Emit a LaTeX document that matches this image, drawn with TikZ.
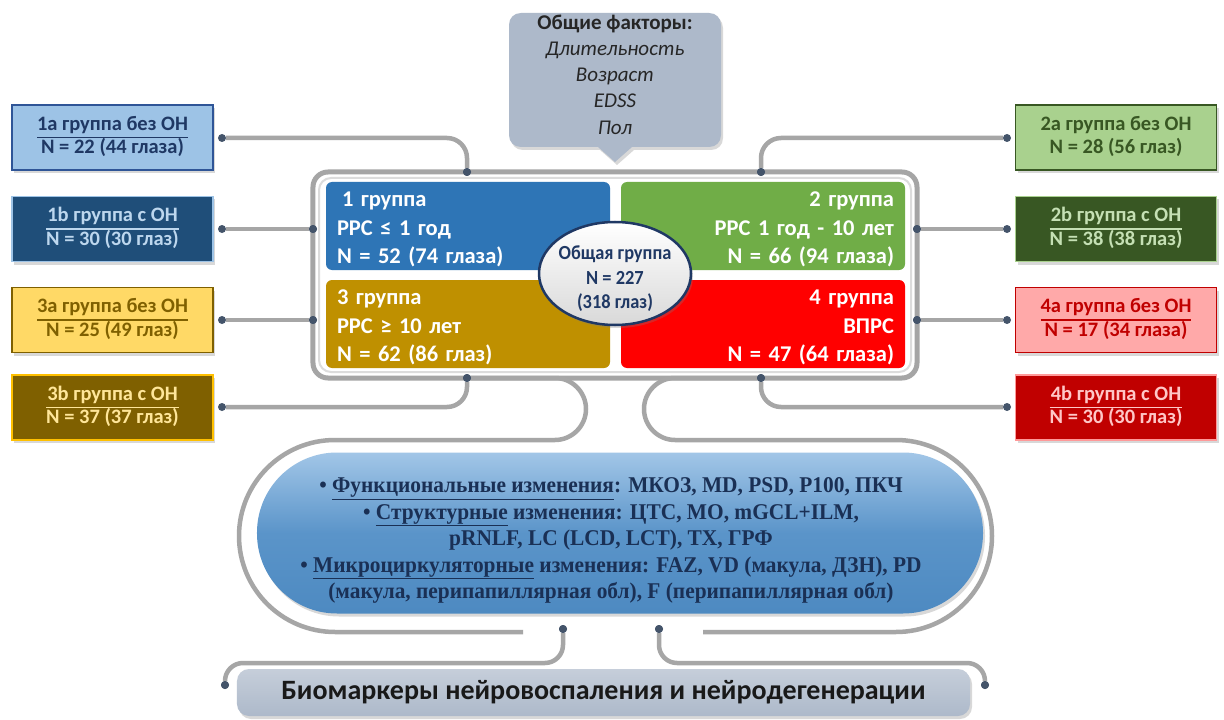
\documentclass[tikz,border=0pt]{standalone}
\usepackage{fontspec}
\setmainfont{Carlito}
\newfontfamily\tnr[FakeStretch=0.95]{Liberation Serif}
\newfontfamily\cond[FakeStretch=0.92]{Carlito}
\usetikzlibrary{shadows,shapes.geometric}
\definecolor{frameC}{HTML}{A5A5A5}
\definecolor{frameL}{HTML}{DCDCDC}
\definecolor{dotC}{HTML}{44546A}
\definecolor{lineC}{HTML}{A6A6A6}
\definecolor{q1}{HTML}{2E75B6}
\definecolor{q2}{HTML}{70AD47}
\definecolor{q3}{HTML}{BF9000}
\definecolor{q4}{HTML}{FF0000}
\definecolor{navy}{HTML}{1F3864}
\definecolor{callC}{HTML}{ADB9CA}
\definecolor{fa}{HTML}{9DC3E6}\definecolor{ba}{HTML}{2F5597}\definecolor{ta}{HTML}{1F3864}
\definecolor{fb}{HTML}{1F4E79}\definecolor{bb}{HTML}{9DC3E6}\definecolor{tb}{HTML}{BDD7EE}
\definecolor{fc}{HTML}{FFD966}\definecolor{bc}{HTML}{7F6000}\definecolor{tc}{HTML}{7F6000}
\definecolor{fd}{HTML}{7F6000}\definecolor{bd}{HTML}{FFC000}\definecolor{td}{HTML}{FFE699}
\definecolor{fe}{HTML}{A9D18E}\definecolor{be}{HTML}{385723}\definecolor{te}{HTML}{385723}
\definecolor{ff}{HTML}{385723}\definecolor{bf}{HTML}{A9D18E}\definecolor{tf}{HTML}{C5E0B4}
\definecolor{fg}{HTML}{FFA9A9}\definecolor{bg}{HTML}{C00000}\definecolor{tg}{HTML}{C00000}
\definecolor{fh}{HTML}{C00000}\definecolor{bh}{HTML}{FF9999}\definecolor{th}{HTML}{FFC7C7}
\newcommand{\grp}[2]{{\setlength{\tabcolsep}{0pt}\setlength{\arrayrulewidth}{1.3bp}\begin{tabular}{c}#1\\\hline #2\end{tabular}}}
\newcommand{\grpn}[2]{{\setlength{\tabcolsep}{0pt}\begin{tabular}{c}#1\\[1.3bp] #2\end{tabular}}}
\begin{document}
\begin{tikzpicture}[x=1bp,y=-1bp,
  shad/.style={drop shadow={opacity=0.3, shadow xshift=2bp, shadow yshift=-3bp}},
  sideb/.style={rectangle, minimum width=201bp, minimum height=65bp, line width=1.5bp, inner sep=0pt,
    font=\fontsize{20.5bp}{22bp}\selectfont\bfseries, shad},
  quad/.style={rectangle, rounded corners=6bp, minimum width=284bp, minimum height=88bp, inner sep=0pt},
  qtext/.style={text width=262bp, inner sep=0pt, text=white, font=\fontsize{22.5bp}{28.5bp}\selectfont\bfseries},
  dot/.style={circle, fill=dotC, inner sep=0pt, minimum size=8bp},
  conn/.style={draw=lineC, line width=4.5bp},
]
\useasboundingbox (0,0) rectangle (1224,720);
\fill[white] (0,0) rectangle (1224,720);

% callout
\path[fill=callC, shad] (521,13) -- (709,13) .. controls (716,13) and (721,18) .. (721,25) -- (721,135)
  .. controls (721,142) and (716,147) .. (709,147) -- (632,147) -- (615,162) -- (598,147) -- (521,147)
  .. controls (514,147) and (509,142) .. (509,135) -- (509,25) .. controls (509,18) and (514,13) .. (521,13) -- cycle;
\node[align=center, font=\fontsize{21bp}{26.2bp}\selectfont, text=black!85] (factors) at (615,74.5)
  {\textbf{Общие факторы:}\\\textit{Длительность}\\\textit{Возраст}\\\textit{EDSS}\\\textit{Пол}};

% frame
\node[draw=frameC, line width=5bp, rounded corners=15bp, minimum width=604bp, minimum height=206bp, inner sep=0pt] (frame) at (615,275) {};
\draw[frameL, line width=2bp, rounded corners=12bp] (319,178) rectangle (911,372);

% side boxes
\node[sideb, fill=fa, draw=ba, text=ta] (b1a) at (112.5,137.5) {\grp{1a группа без ОН}{N = 22 (44 глаза)}};
\node[sideb, fill=fb, draw=bb, text=tb] (b1b) at (112.5,229) {\grp{1b группа с ОН}{N = 30 (30 глаз)}};
\node[sideb, fill=fc, draw=bc, text=tc] (b3a) at (112.5,320) {\grp{3a группа без ОН}{N = 25 (49 глаз)}};
\node[sideb, fill=fd, draw=bd, text=td] (b3b) at (112.5,407.5) {\grp{3b группа с ОН}{N = 37 (37 глаз)}};
\node[sideb, fill=fe, draw=be, text=te] (b2a) at (1116,137.5) {\grpn{2a группа без ОН}{N = 28 (56 глаз)}};
\node[sideb, fill=ff, draw=bf, text=tf] (b2b) at (1116,229) {\grp{2b группа с ОН}{N = 38 (38 глаз)}};
\node[sideb, fill=fg, draw=bg, text=tg] (b4a) at (1116,320) {\grp{4a группа без ОН}{N = 17 (34 глаза)}};
\node[sideb, fill=fh, draw=bh, text=th] (b4b) at (1116,407.5) {\grp{4b группа с ОН}{N = 30 (30 глаз)}};

% dots
\node[dot] (dl1) at (222,138) {};
\node[dot] (dl2) at (222,229) {};
\node[dot] (dl3) at (222,320) {};
\node[dot] (dl4) at (222,407) {};
\node[dot] (dr1) at (1007,138) {};
\node[dot] (dr2) at (1007,229) {};
\node[dot] (dr3) at (1007,320) {};
\node[dot] (dr4) at (1007,407) {};
\node[dot] (df1) at (467,172) {};
\node[dot] (df2) at (313,229) {};
\node[dot] (df3) at (313,320) {};
\node[dot] (df4) at (467,378) {};
\node[dot] (dg1) at (761,172) {};
\node[dot] (dg2) at (917,229) {};
\node[dot] (dg3) at (917,320) {};
\node[dot] (dg4) at (761,378) {};
\coordinate (le) at (523,632);
\coordinate (re) at (703,632);

% connectors
\draw[conn, rounded corners=20bp] (dl1) -| (df1);
\draw[conn] (dl2) -- (df2);
\draw[conn] (dl3) -- (df3);
\draw[conn, rounded corners=20bp] (dl4) -| (df4);
\draw[conn, rounded corners=20bp] (dr1) -| (dg1);
\draw[conn] (dr2) -- (dg2);
\draw[conn] (dr3) -- (dg3);
\draw[conn, rounded corners=20bp] (dr4) -| (dg4);
\draw[conn] (df4) -- (555,378) .. controls (572,378) and (586,392) .. (586,409) .. controls (586,426) and (572,440) .. (555,440)
  -- (335,440) .. controls (282,440) and (239,483) .. (239,536) .. controls (239,589) and (282,632) .. (335,632) -- (le);
\draw[conn] (dg4) -- (675,378) .. controls (658,378) and (644,392) .. (644,409) .. controls (644,426) and (658,440) .. (675,440)
  -- (896,440) .. controls (949,440) and (992,483) .. (992,536) .. controls (992,589) and (949,632) .. (896,632) -- (re);

% quadrants
\node[quad, fill=q1] (g1) at (468,226) {};
\node[quad, fill=q2] (g2) at (763,226) {};
\node[quad, fill=q3] (g3) at (468,324) {};
\node[quad, fill=q4] (g4) at (763,324) {};
\node[qtext, align=left] (t1) at (468,229.5) {\hspace*{5bp}1 группа\\РРС ≤ 1 год\\N = 52 (74 глаза)};
\node[qtext, align=right] (t2) at (763,229.5) {2 группа\\РРС 1 год - 10 лет\\N = 66 (94 глаза)};
\node[qtext, align=left] (t3) at (468,327.5) {3 группа\\РРС ≥ 10 лет\\N = 62 (86 глаз)};
\node[qtext, align=right] (t4) at (763,327.5) {4 группа\\ВПРС\\N = 47 (64 глаза)};
\node[ellipse, draw=navy, line width=2.5bp, top color=white, bottom color=black!15, minimum width=152bp, minimum height=103bp,
  inner sep=0pt, shad] (all) at (615,273.5) {};
\node[align=center, text=navy, font=\cond\fontsize{20bp}{24.5bp}\selectfont\bfseries, inner sep=0pt] (alltext) at (615,279)
  {Общая группа\\N = 227\\(318 глаз)};

% redraw frame dots on top
\foreach \d in {df1,df2,df3,df4,dg1,dg2,dg3,dg4} \fill[dotC] (\d) circle (4bp);

% oval
\node[rectangle, rounded corners=80bp, minimum width=726bp, minimum height=161bp, inner sep=0pt,
  top color=fa!95, bottom color=q1!85, middle color=q1!60!fa, shad] (oval) at (620,533) {};
\node[align=center, text=navy!85!black, inner sep=0pt,
  font=\tnr\fontsize{22.5bp}{26.5bp}\selectfont\bfseries] (ovaltext) at (611,540.5)
  {• \underline{Функциональные изменения}: МКОЗ, MD, PSD, P100, ПКЧ\\
   • \underline{Структурные} изменения: ЦТС, МО, mGCL+ILM,\\
   pRNLF, LC (LCD, LCT), TX, ГРФ\\
   • \underline{Микроциркуляторные} изменения: FAZ, VD (макула, ДЗН), PD\\
   (макула, перипапиллярная обл), F (перипапиллярная обл)};

% bottom box
\node[rectangle, rounded corners=12bp, minimum width=733bp, minimum height=47bp, inner sep=0pt,
  top color=callC!70, bottom color=callC, shad, text=black!90,
  font=\fontsize{28bp}{32bp}\selectfont\bfseries] (bio) at (603.5,692.5)
  {Биомаркеры нейровоспаления и нейродегенерации};

\node[dot] (do1) at (563,629) {};
\node[dot] (do2) at (659,629) {};
\node[dot] (db1) at (225,685) {};
\node[dot] (db2) at (985,685) {};
\draw[conn, rounded corners=18bp] (do1) -- ++(0,34) -| (db1);
\draw[conn, rounded corners=18bp] (do2) -- ++(0,34) -| (db2);
\foreach \d in {do1,do2,db1,db2} \fill[dotC] (\d) circle (4bp);
\end{tikzpicture}
\end{document}
